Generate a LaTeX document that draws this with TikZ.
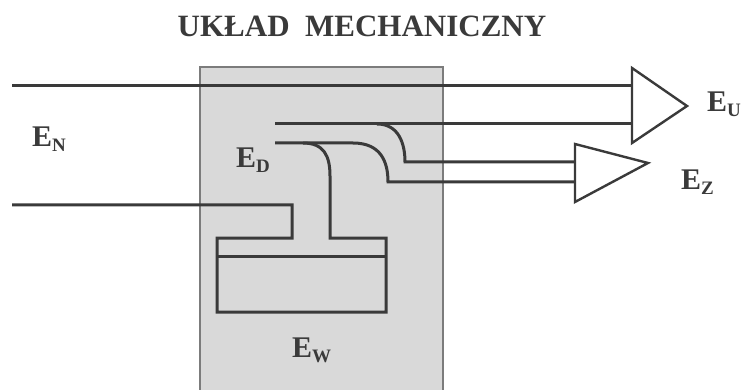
\documentclass[tikz,border=0pt]{standalone}
\usepackage{fontspec}
\setmainfont{Liberation Serif}
\definecolor{ink}{HTML}{3A3A3A}
\definecolor{panel}{HTML}{D9D9D9}
\definecolor{paneledge}{HTML}{7C7C7C}
\tikzset{
  flow/.style={draw=ink, line width=3pt},
  tri/.style={draw=ink, line width=2.4pt, fill=white, line join=miter},
  lbl/.style={anchor=base west, inner sep=0pt, text=ink, font=\bfseries\fontsize{30}{32}\selectfont},
  ttl/.style={anchor=base, inner sep=0pt, text=ink, font=\bfseries\fontsize{31}{33}\selectfont}
}
\newcommand{\lab}[1]{E\raisebox{-5pt}{\bfseries\fontsize{19}{20}\selectfont #1}}
\begin{document}
\begin{tikzpicture}[x=1pt,y=-1pt]
\useasboundingbox (0,0) rectangle (744,390);
% panel
\draw[fill=panel, draw=paneledge, line width=1.3pt] (200,67) rectangle (443,396);
% title
\node[ttl] (title) at (362,37) {UKŁAD\ \ MECHANICZNY};
% arrow heads
\coordinate (bt) at (632,68); \coordinate (bb) at (632,143); \coordinate (btip) at (687,106);
\coordinate (st) at (575,144); \coordinate (sb) at (575,202); \coordinate (stip) at (648,163);
\draw[tri] (bt) -- (btip) -- (bb) -- cycle;
\draw[tri] (st) -- (stip) -- (sb) -- cycle;
% flows
\coordinate (inTop) at (12,86);
\coordinate (outTop) at (632,86);
\draw[flow] (inTop) -- (outTop);
\coordinate (l2s) at (275,124);
\coordinate (l2e) at (632,124);
\draw[flow] (l2s) -- (l2e);
\coordinate (b2s) at (377,124);
\coordinate (b2e) at (575,162);
\draw[flow] (b2s) .. controls (399,124) and (405,144) .. (405,162) -- (b2e);
\coordinate (l3s) at (275,143);
\coordinate (l3e) at (575,182);
\draw[flow] (l3s) -- (353,143) .. controls (381,143) and (388,162) .. (388,182) -- (l3e);
\coordinate (b3s) at (303,143);
\coordinate (inLow) at (12,205);
\draw[flow, line join=miter] (b3s) .. controls (324,143) and (330,156) .. (330,176) -- (330,238) -- (386,238) -- (386,312) -- (217,312) -- (217,238) -- (292,238) -- (292,205) -- (inLow);
\coordinate (divL) at (217,256);
\coordinate (divR) at (386,256);
\draw[flow] (divL) -- (divR);
% labels
\node[lbl] (EN) at (32,147) {\lab{N}};
\node[lbl] (ED) at (236,168) {\lab{D}};
\node[lbl] (EW) at (292,357) {\lab{W}};
\node[lbl] (EU) at (707,112) {\lab{U}};
\node[lbl] (EZ) at (681,190) {\lab{Z}};
\end{tikzpicture}
\end{document}
